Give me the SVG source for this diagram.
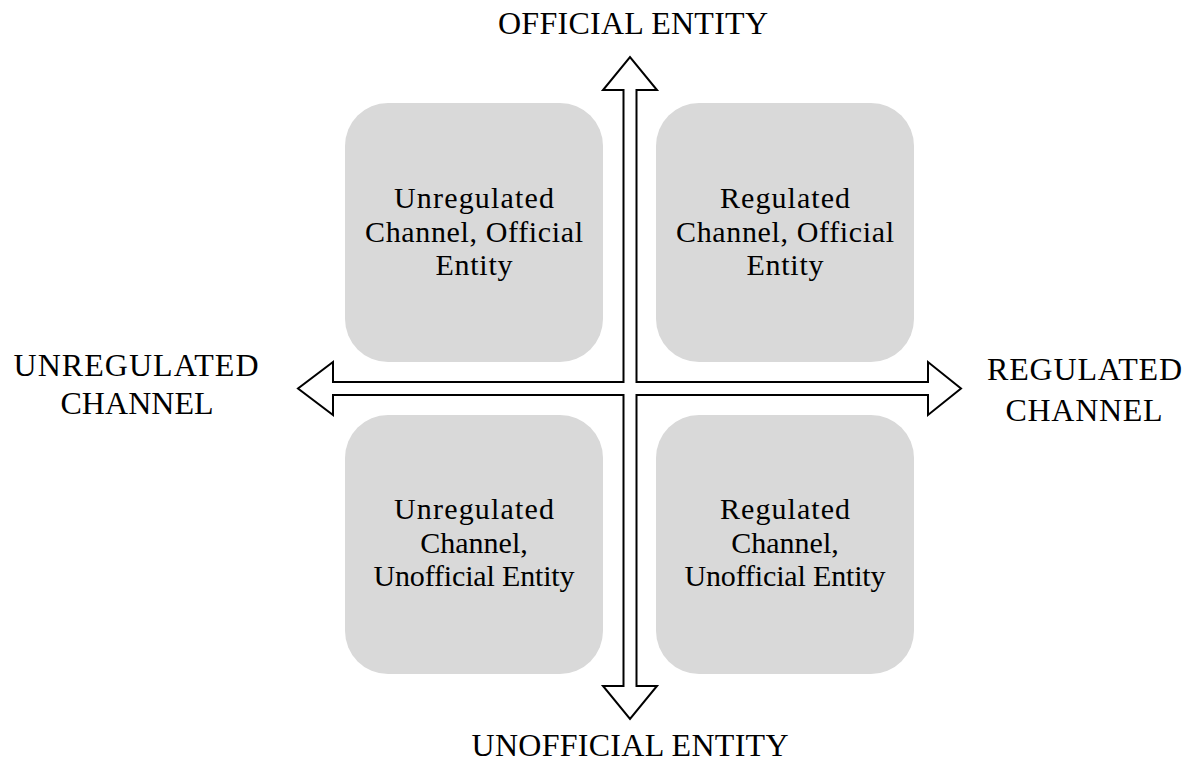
<svg xmlns="http://www.w3.org/2000/svg" width="1191" height="775" viewBox="0 0 1191 775">
<style>
.box{fill:#d9d9d9;stroke:none}
.t{font-family:"Liberation Serif","Times New Roman",serif;font-size:30px;fill:#000;text-anchor:middle}
.h{font-family:"Liberation Serif","Times New Roman",serif;font-size:32px;fill:#000;text-anchor:middle}
.arrow{fill:#fff;stroke:#000;stroke-width:2;stroke-linejoin:miter}
</style>
<rect width="1191" height="775" fill="#fff"/>
<g id="node-ul">
<rect class="box" x="345" y="103" width="258" height="259" rx="43"/>
<text class="t" x="474" y="208" textLength="160">Unregulated</text>
<text class="t" x="474" y="242" textLength="218">Channel, Official</text>
<text class="t" x="474" y="275" textLength="77">Entity</text>
</g>
<g id="node-ur">
<rect class="box" x="656" y="103" width="258" height="259" rx="43"/>
<text class="t" x="785" y="208" textLength="130">Regulated</text>
<text class="t" x="785" y="242" textLength="218">Channel, Official</text>
<text class="t" x="785" y="275" textLength="77">Entity</text>
</g>
<g id="node-ll">
<rect class="box" x="345" y="415" width="258" height="259" rx="43"/>
<text class="t" x="474" y="519" textLength="160">Unregulated</text>
<text class="t" x="474" y="553">Channel,</text>
<text class="t" x="474" y="586" textLength="201">Unofficial Entity</text>
</g>
<g id="node-lr">
<rect class="box" x="656" y="415" width="258" height="259" rx="43"/>
<text class="t" x="785" y="519" textLength="130">Regulated</text>
<text class="t" x="785" y="553">Channel,</text>
<text class="t" x="785" y="586" textLength="201">Unofficial Entity</text>
</g>
<g id="connectors">
<polygon class="arrow" points="636.5,382 636.5,90 657,90 630,57 603,90 623.5,90 623.5,382 333,382 333,362 298,388.5 333,415 333,395 623.5,395 623.5,686 603,686 630,719 657,686 636.5,686 636.5,395 928,395 928,415 961,388.5 928,362 928,382"/>
</g>
<g id="labels">
<text class="h" x="633" y="34" textLength="270">OFFICIAL ENTITY</text>
<text class="h" x="630" y="756" textLength="317">UNOFFICIAL ENTITY</text>
<text class="h" x="136" y="376" textLength="245">UNREGULATED</text>
<text class="h" x="137" y="414" textLength="153">CHANNEL</text>
<text class="h" x="1084.5" y="380" textLength="195">REGULATED</text>
<text class="h" x="1084" y="421" textLength="157">CHANNEL</text>
</g>
</svg>
